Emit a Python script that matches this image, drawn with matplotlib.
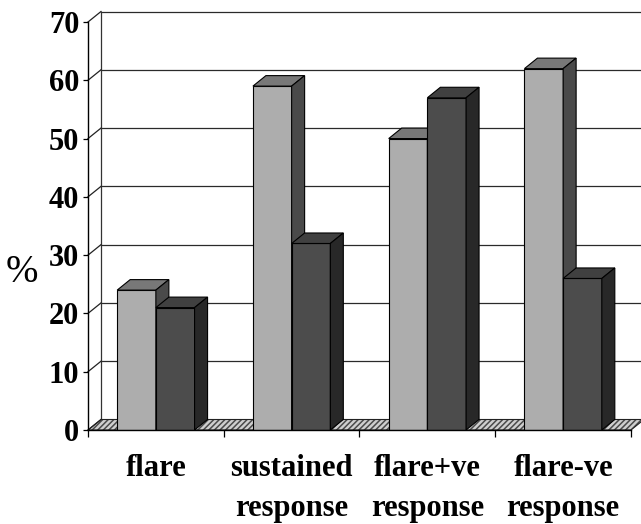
import matplotlib
matplotlib.use("Agg")
import matplotlib.pyplot as plt
from matplotlib.patches import Polygon
import numpy as np

# ---- data -------------------------------------------------------------
categories = ["flare", "sustained\nresponse", "flare+ve\nresponse", "flare-ve\nresponse"]
light_values = [24, 59, 50, 62]
dark_values = [21, 32, 57, 26]
y_ticks = [0, 10, 20, 30, 40, 50, 60, 70]

# ---- style ------------------------------------------------------------
LIGHT_FRONT, LIGHT_TOP, LIGHT_SIDE = "#adadad", "#787878", "#4a4a4a"
DARK_FRONT, DARK_TOP, DARK_SIDE = "#4c4c4c", "#404040", "#282828"
FONT = "Liberation Serif"
plt.rcParams["hatch.linewidth"] = 1.1

W_PX, H_PX = 641, 524
fig = plt.figure(figsize=(W_PX / 100, H_PX / 100), dpi=100)
fig.patch.set_facecolor("white")

# front plane of the pseudo-3D box
left_px, right_px, bottom_px, top_px = 88, 631, 430, 22
ax = fig.add_axes([left_px / W_PX, (H_PX - bottom_px) / H_PX,
                   (right_px - left_px) / W_PX, (bottom_px - top_px) / H_PX])
ax.set_facecolor("none")
ymax = y_ticks[-1]
x0, x1 = -0.5, len(categories) - 0.5
ax.set_xlim(x0, x1)
ax.set_ylim(0, ymax)

# oblique depth offset, expressed in data units
px_per_x = (right_px - left_px) / (x1 - x0)
px_per_y = (bottom_px - top_px) / ymax
DX = 13 / px_per_x
DY = 10.5 / px_per_y

# floor
floor_pts = [(x0, 0), (x1, 0), (x1 + DX, DY), (x0 + DX, DY)]
ax.add_patch(Polygon(floor_pts, closed=True, facecolor="#cfcfcf", edgecolor="#4a4a4a",
                     hatch="//////", linewidth=0, clip_on=False, zorder=1))
ax.add_patch(Polygon(floor_pts, closed=True, facecolor="none", edgecolor="#222222",
                     linewidth=0.8, clip_on=False, zorder=1.1))

# back wall gridlines and side wall diagonals
far_right = x1 + DX + 1.0
for v in y_ticks:
    ax.plot([x0, x0 + DX], [v, v + DY], color="#222222", lw=0.9, clip_on=False, zorder=1.2)
    if v > 0:
        ax.plot([x0 + DX, far_right], [v + DY, v + DY], color="#2a2a2a", lw=0.9,
                clip_on=False, zorder=0.5)
ax.plot([x0 + DX, x0 + DX], [DY, ymax + DY], color="#333333", lw=0.9, clip_on=False, zorder=0.6)


def add_faces(rects, top_c, side_c, z):
    for r in rects:
        x, w, h = r.get_x(), r.get_width(), r.get_height()
        top = [(x, h), (x + w, h), (x + w + DX, h + DY), (x + DX, h + DY)]
        side = [(x + w, 0), (x + w + DX, DY), (x + w + DX, h + DY), (x + w, h)]
        ax.add_patch(Polygon(top, closed=True, facecolor=top_c, edgecolor="black",
                             linewidth=0.8, clip_on=False, zorder=z))
        ax.add_patch(Polygon(side, closed=True, facecolor=side_c, edgecolor="black",
                             linewidth=0.8, clip_on=False, zorder=z))


centers = np.arange(len(categories))
bw = 0.285
light = ax.bar(centers - bw, light_values, width=bw, align="edge", color=LIGHT_FRONT,
               edgecolor="black", linewidth=0.8, zorder=3)
add_faces(light, LIGHT_TOP, LIGHT_SIDE, 3)
dark = ax.bar(centers, dark_values, width=bw, align="edge", color=DARK_FRONT,
              edgecolor="black", linewidth=0.8, zorder=4)
add_faces(dark, DARK_TOP, DARK_SIDE, 4)

# axes
for s in ("top", "right"):
    ax.spines[s].set_visible(False)
for s in ("left", "bottom"):
    ax.spines[s].set_linewidth(1.0)
    ax.spines[s].set_zorder(5)

ax.set_yticks(y_ticks)
ax.set_yticklabels([str(v) for v in y_ticks], fontfamily=FONT, fontweight="bold", fontsize=22)
ax.tick_params(axis="y", direction="out", length=3.8, width=0.9, pad=2.5)

ax.set_xticks(centers)
ax.set_xticklabels(categories, fontfamily=FONT, fontweight="bold", fontsize=22,
                   linespacing=1.5)
ax.set_xticks(np.arange(x0, x1 + 0.01, 1.0), minor=True)
ax.tick_params(axis="x", which="major", length=0, pad=17)
ax.tick_params(axis="x", which="minor", direction="out", length=5, width=0.9)

ax.set_ylabel("%", rotation=0, fontfamily=FONT, fontsize=28, va="center", ha="center")
ax.yaxis.set_label_coords((22 - left_px) / (right_px - left_px), (bottom_px - 272) / (bottom_px - top_px))

fig.savefig("out.png", dpi=100, facecolor="white")
